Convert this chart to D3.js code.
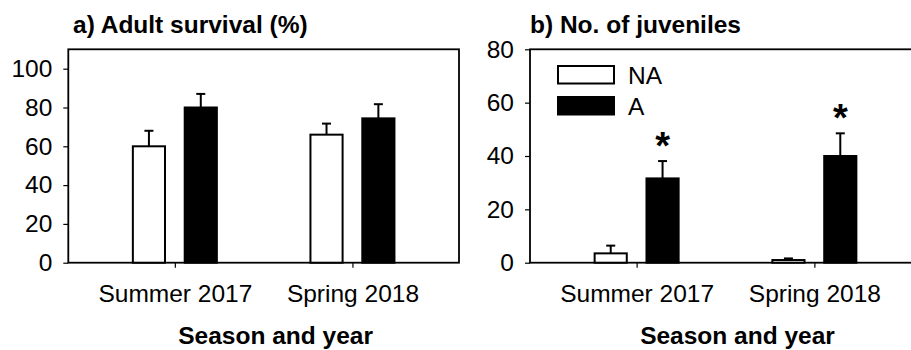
<!DOCTYPE html>
<html>
<head>
<meta charset="utf-8">
<script src="https://cdn.jsdelivr.net/npm/d3@7"></script>
<style>
  html, body { margin: 0; padding: 0; background: #fff; }
  svg { display: block; font-family: Arial, "Liberation Sans", sans-serif; }
</style>
</head>
<body>
<svg id="chart" width="911" height="350"></svg>
<script>
// Seasons sampled and treatment groups
const categories = ["Summer 2017", "Spring 2018"];
const groups = ["NA", "A"];

// Panel a: adult survival (%), mean and SE
const survivalNA = [60, 66];
const survivalNAErr = [8, 5.7];
const survivalA = [80, 74.4];
const survivalAErr = [7, 7.3];
const survivalTicks = [0, 20, 40, 60, 80, 100];

// Panel b: number of juveniles, mean and SE
const juvenilesNA = [3.5, 1.0];
const juvenilesNAErr = [2.9, 0.6];
const juvenilesA = [31.6, 40];
const juvenilesAErr = [6.5, 8.5];
const juvenilesTicks = [0, 20, 40, 60, 80];
// Significant difference between groups (marked with *)
const juvenilesSig = [true, true];

const svg = d3.select("#chart");
const fills = { NA: "#fff", A: "#000" };
const labelSize = 24.5;

function panel(opts) {
  const { left, right, top, bottom, yMax, ticks, title, titleX, na, naErr, a, aErr, sig, legend } = opts;

  const x = d3.scalePoint().domain(categories).range([left, right]).padding(0.6);
  const x1 = d3.scaleBand().domain(groups).range([-42, 42]).paddingInner(0.38);
  const y = d3.scaleLinear().domain([0, yMax]).range([bottom, top]);

  const g = svg.append("g");

  // Title
  g.append("text")
    .attr("x", titleX).attr("y", 33)
    .attr("font-size", 24.5).attr("font-weight", "bold")
    .text(title);

  // Frame
  g.append("rect")
    .attr("x", left).attr("y", top)
    .attr("width", right - left).attr("height", bottom - top)
    .attr("fill", "none").attr("stroke", "#000").attr("stroke-width", 1.8);

  // Y axis
  const yAxis = g.append("g").attr("transform", `translate(${left},0)`)
    .call(d3.axisLeft(y).tickValues(ticks).tickSize(5).tickPadding(11).tickFormat(d3.format("d")));
  yAxis.select(".domain").remove();
  yAxis.selectAll("line").attr("stroke", "#000").attr("stroke-width", 1.2);
  yAxis.selectAll("text").attr("font-size", labelSize).attr("fill", "#000")
    .attr("font-family", "Arial, 'Liberation Sans', sans-serif");

  // X axis
  const xAxis = g.append("g").attr("transform", `translate(0,${bottom})`)
    .call(d3.axisBottom(x).tickSize(5).tickPadding(17));
  xAxis.select(".domain").remove();
  xAxis.selectAll("line").attr("stroke", "#000").attr("stroke-width", 1.2);
  xAxis.selectAll("text").attr("font-size", labelSize).attr("fill", "#000")
    .attr("font-family", "Arial, 'Liberation Sans', sans-serif");

  // Axis title
  g.append("text")
    .attr("x", (left + right) / 2 + 12).attr("y", 344)
    .attr("text-anchor", "middle")
    .attr("font-size", 24.5).attr("font-weight", "bold")
    .text("Season and year");

  // Bars with upward error bars
  const rows = [];
  categories.forEach((c, i) => {
    rows.push({ cat: c, grp: "NA", v: na[i], e: naErr[i], sig: false });
    rows.push({ cat: c, grp: "A", v: a[i], e: aErr[i], sig: sig ? sig[i] : false });
  });

  const bw = x1.bandwidth();
  const bars = g.append("g").selectAll("g").data(rows).join("g")
    .attr("transform", d => `translate(${x(d.cat) + x1(d.grp)},0)`);

  bars.append("line")
    .attr("x1", bw / 2).attr("x2", bw / 2)
    .attr("y1", d => y(d.v)).attr("y2", d => y(d.v + d.e))
    .attr("stroke", "#000").attr("stroke-width", 2);
  bars.append("line")
    .attr("x1", bw / 2 - 4.5).attr("x2", bw / 2 + 4.5)
    .attr("y1", d => y(d.v + d.e)).attr("y2", d => y(d.v + d.e))
    .attr("stroke", "#000").attr("stroke-width", 2);
  bars.append("rect")
    .attr("x", 0).attr("width", bw)
    .attr("y", d => y(d.v)).attr("height", d => y(0) - y(d.v))
    .attr("fill", d => fills[d.grp]).attr("stroke", "#000").attr("stroke-width", 2);

  bars.filter(d => d.sig).append("text")
    .attr("x", bw / 2).attr("y", d => y(d.v + d.e) - 26)
    .attr("dy", "0.62em")
    .attr("text-anchor", "middle")
    .attr("font-size", 38).attr("font-weight", "bold")
    .text("*");

  // Legend
  if (legend) {
    const lg = g.append("g").attr("transform", `translate(${left + 28},66)`);
    groups.forEach((k, i) => {
      lg.append("rect")
        .attr("x", 0).attr("y", i * 31)
        .attr("width", 56).attr("height", 17.5)
        .attr("fill", fills[k]).attr("stroke", "#000").attr("stroke-width", 2);
      lg.append("text")
        .attr("x", 70).attr("y", i * 31 + 9)
        .attr("dy", "0.36em")
        .attr("font-size", labelSize)
        .text(k);
    });
  }
}

panel({
  left: 68.3, right: 459, top: 49.3, bottom: 262.7, yMax: 110,
  ticks: survivalTicks, title: "a) Adult survival (%)", titleX: 73,
  na: survivalNA, naErr: survivalNAErr, a: survivalA, aErr: survivalAErr,
  sig: null, legend: false
});

panel({
  left: 530, right: 921, top: 49.3, bottom: 262.7, yMax: 80,
  ticks: juvenilesTicks, title: "b) No. of juveniles", titleX: 530,
  na: juvenilesNA, naErr: juvenilesNAErr, a: juvenilesA, aErr: juvenilesAErr,
  sig: juvenilesSig, legend: true
});
</script>
</body>
</html>
